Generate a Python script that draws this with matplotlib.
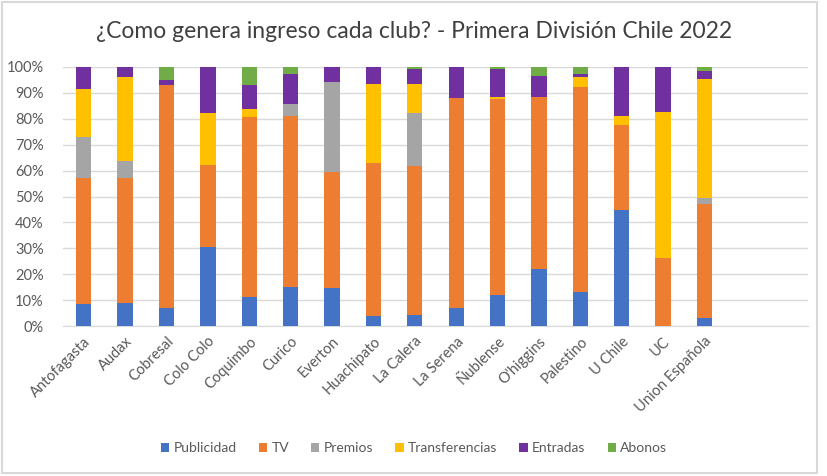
import matplotlib.pyplot as plt
import numpy as np
from matplotlib.patches import Rectangle

plt.rcParams['font.family'] = ['Lato', 'DejaVu Sans']

clubs = ['Antofagasta', 'Audax', 'Cobresal', 'Colo Colo', 'Coquimbo', 'Curico',
         'Everton', 'Huachipato', 'La Calera', 'La Serena', 'Ñublense', "O'higgins",
         'Palestino', 'U Chile', 'UC', 'Union Española']

# share of each income source per club (%)
publicidad = [8.6, 8.9, 7.0, 30.6, 11.1, 15.1, 14.7, 3.7, 4.1, 7.1, 11.9, 22.1, 13.0, 44.9, 0.0, 3.1]
tv =         [48.7, 48.4, 85.9, 31.6, 69.5, 66.1, 44.7, 59.4, 57.7, 80.9, 75.6, 66.2, 79.3, 32.6, 26.1, 43.9]
premios =    [15.5, 6.4, 0.0, 0.0, 0.0, 4.6, 34.8, 0.0, 20.5, 0.0, 0.0, 0.0, 0.0, 0.0, 0.0, 2.5]
transfer =   [18.6, 32.3, 0.0, 19.9, 3.0, 0.0, 0.0, 30.4, 11.2, 0.0, 1.0, 0.0, 4.0, 3.5, 56.6, 46.0]
entradas =   [8.6, 4.0, 2.1, 17.9, 9.6, 11.5, 5.8, 6.5, 5.9, 12.0, 10.6, 8.3, 1.0, 19.0, 17.3, 3.1]
abonos =     [0.0, 0.0, 5.0, 0.0, 6.8, 2.7, 0.0, 0.0, 0.6, 0.0, 0.9, 3.4, 2.7, 0.0, 0.0, 1.4]

series = [('Publicidad', publicidad, '#4472C4'),
          ('TV', tv, '#ED7D31'),
          ('Premios', premios, '#A5A5A5'),
          ('Transferencias', transfer, '#FFC000'),
          ('Entradas', entradas, '#7030A0'),
          ('Abonos', abonos, '#70AD47')]

fig = plt.figure(figsize=(8.28, 4.76), dpi=100)
ax = fig.add_axes([63/828, 1 - 326/476, 745/828, 259/476])

x = np.arange(len(clubs))
bottom = np.zeros(len(clubs))
for name, vals, col in series:
    v = np.array(vals) / 100
    ax.bar(x, v, 0.37, bottom=bottom, color=col, label=name, zorder=3)
    bottom += v

ax.set_xlim(-0.5, 17.5)
ax.set_ylim(0, 1)
ticks = np.arange(0, 1.01, 0.1)
ax.set_yticks(ticks)
ax.set_yticklabels([f'{int(round(t*100))}%' for t in ticks])
ax.set_xticks(x)
ax.set_xticklabels(clubs, rotation=45, ha='right', rotation_mode='anchor')
ax.tick_params(axis='both', length=0, labelsize=10.5, colors='#595959', pad=6)
ax.tick_params(axis='y', pad=14)
ax.grid(axis='y', color='#D9D9D9', lw=1, zorder=0)
for s in ['top', 'right', 'left']:
    ax.spines[s].set_visible(False)
ax.spines['bottom'].set_color('#D9D9D9')

fig.text(0.5, 1 - 32/476, '¿Como genera ingreso cada club? - Primera División Chile 2022',
         ha='center', va='center', fontsize=16.5, color='#404040')

fig.legend(loc='center', bbox_to_anchor=(0.5, 1 - 448/476), ncol=6, frameon=False,
           fontsize=10, labelcolor='#595959', handlelength=0.6, handleheight=0.6,
           handletextpad=0.3, columnspacing=1.6)

fig.patches.append(Rectangle((2/828, 3/476), 815/828, 471/476, transform=fig.transFigure,
                             fill=False, edgecolor='#D9D9D9', lw=1.5))

fig.savefig('out.png', dpi=100)
